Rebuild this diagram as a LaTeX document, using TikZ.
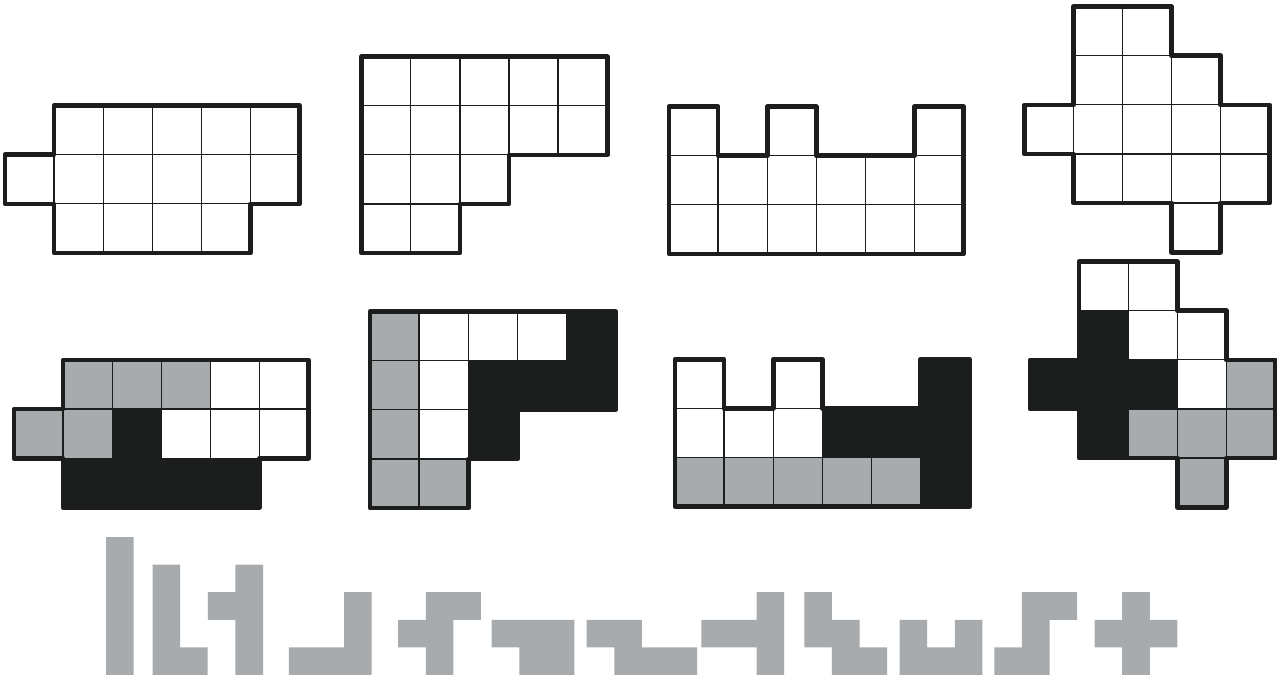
\documentclass[tikz,border=0pt]{standalone}
\definecolor{pgrey}{HTML}{A7ABAD}
\definecolor{pblack}{HTML}{1B1E1D}
\newcommand\rimA{(1,0) -- (6,0) -- (6,2) -- (5,2) -- (5,3) -- (1,3) -- (1,2) -- (0,2) -- (0,1) -- (1,1) -- cycle}
\newcommand\rimB{(0,0) -- (5,0) -- (5,2) -- (3,2) -- (3,3) -- (2,3) -- (2,4) -- (0,4) -- cycle}
\newcommand\rimC{(0,0) -- (1,0) -- (1,1) -- (2,1) -- (2,0) -- (3,0) -- (3,1) -- (5,1) -- (5,0) -- (6,0) -- (6,3) -- (0,3) -- cycle}
\newcommand\rimD{(1,0) -- (3,0) -- (3,1) -- (4,1) -- (4,2) -- (5,2) -- (5,4) -- (4,4) -- (4,5) -- (3,5) -- (3,4) -- (1,4) -- (1,3) -- (0,3) -- (0,2) -- (1,2) -- cycle}
\newcommand\pent[2]{%
  \begin{scope}[shift={(#1,675)}, x=0.552cm, y=0.552cm]
    \fill[piece] \foreach \c/\k in {#2} {(\c,\k) rectangle ++(1,1)};
  \end{scope}}
\begin{document}
\begin{tikzpicture}[x=0.02cm, y=-0.02cm]
  \tikzset{
    cell/.style={draw=pblack, line width=0.7pt},
    rim/.style={draw=pblack, line width=2.7pt, line join=round},
    board/.style={x=0.982cm, y=-0.982cm},
    piece/.style={fill=pgrey}
  }
  \useasboundingbox (0,0) rectangle (1277,675);

  % empty boards
  \begin{scope}[shift={(5,105.7)}, board]
    \foreach \r/\cs in {0/{1,...,5}, 1/{0,...,5}, 2/{1,...,4}}
      \foreach \c in \cs \draw[cell] (\c,\r) rectangle ++(1,1);
    \draw[rim] \rimA;
  \end{scope}
  \begin{scope}[shift={(361.7,56.7)}, board]
    \foreach \r/\cs in {0/{0,...,4}, 1/{0,...,4}, 2/{0,1,2}, 3/{0,1}}
      \foreach \c in \cs \draw[cell] (\c,\r) rectangle ++(1,1);
    \draw[rim] \rimB;
  \end{scope}
  \begin{scope}[shift={(669,106.7)}, board]
    \foreach \r/\cs in {0/{0,2,5}, 1/{0,...,5}, 2/{0,...,5}}
      \foreach \c in \cs \draw[cell] (\c,\r) rectangle ++(1,1);
    \draw[rim] \rimC;
  \end{scope}
  \begin{scope}[shift={(1024.3,6.7)}, board]
    \foreach \r/\cs in {0/{1,2}, 1/{1,2,3}, 2/{0,...,4}, 3/{1,...,4}, 4/{3}}
      \foreach \c in \cs \draw[cell] (\c,\r) rectangle ++(1,1);
    \draw[rim] \rimD;
  \end{scope}

  % solved boards
  \begin{scope}[shift={(14,360)}, board]
    \foreach \c/\r/\f in {1/0/pgrey,2/0/pgrey,3/0/pgrey,0/1/pgrey,1/1/pgrey,
        4/0/white,5/0/white,3/1/white,4/1/white,5/1/white,
        2/1/pblack,1/2/pblack,2/2/pblack,3/2/pblack,4/2/pblack}
      \filldraw[cell, fill=\f] (\c,\r) rectangle ++(1,1);
    \draw[rim] \rimA;
  \end{scope}
  \begin{scope}[shift={(370,311.7)}, board]
    \foreach \c/\r/\f in {0/0/pgrey,0/1/pgrey,0/2/pgrey,0/3/pgrey,1/3/pgrey,
        1/0/white,2/0/white,3/0/white,1/1/white,1/2/white,
        4/0/pblack,2/1/pblack,3/1/pblack,4/1/pblack,2/2/pblack}
      \filldraw[cell, fill=\f] (\c,\r) rectangle ++(1,1);
    \draw[rim] \rimB;
  \end{scope}
  \begin{scope}[shift={(675,359.3)}, board]
    \foreach \c/\r/\f in {0/0/white,2/0/white,0/1/white,1/1/white,2/1/white,
        0/2/pgrey,1/2/pgrey,2/2/pgrey,3/2/pgrey,4/2/pgrey,
        5/0/pblack,3/1/pblack,4/1/pblack,5/1/pblack,5/2/pblack}
      \filldraw[cell, fill=\f] (\c,\r) rectangle ++(1,1);
    \draw[rim] \rimC;
  \end{scope}
  \begin{scope}[shift={(1030,261.7)}, board]
    \foreach \c/\r/\f in {1/0/white,2/0/white,2/1/white,3/1/white,3/2/white,
        4/2/pgrey,2/3/pgrey,3/3/pgrey,4/3/pgrey,3/4/pgrey,
        1/1/pblack,0/2/pblack,1/2/pblack,2/2/pblack,1/3/pblack}
      \filldraw[cell, fill=\f] (\c,\r) rectangle ++(1,1);
    \draw[rim] \rimD;
  \end{scope}

  % the twelve pentominoes
  \pent{106.1}{0/0,0/1,0/2,0/3,0/4}
  \pent{152.5}{0/0,0/1,0/2,0/3,1/0}
  \pent{207.9}{1/0,1/1,1/2,1/3,0/2}
  \pent{288.9}{0/0,1/0,2/0,2/1,2/2}
  \pent{398.2}{1/2,2/2,0/1,1/1,1/0}
  \pent{491.7}{0/1,1/1,2/1,1/0,2/0}
  \pent{586.7}{0/1,1/1,1/0,2/0,3/0}
  \pent{701.4}{0/1,1/1,2/0,2/1,2/2}
  \pent{804.3}{0/1,0/2,1/0,1/1,2/0}
  \pent{899.6}{0/0,0/1,1/0,2/0,2/1}
  \pent{994.3}{0/0,1/0,1/1,1/2,2/2}
  \pent{1094.6}{1/0,1/1,1/2,0/1,2/1}
\end{tikzpicture}
\end{document}
